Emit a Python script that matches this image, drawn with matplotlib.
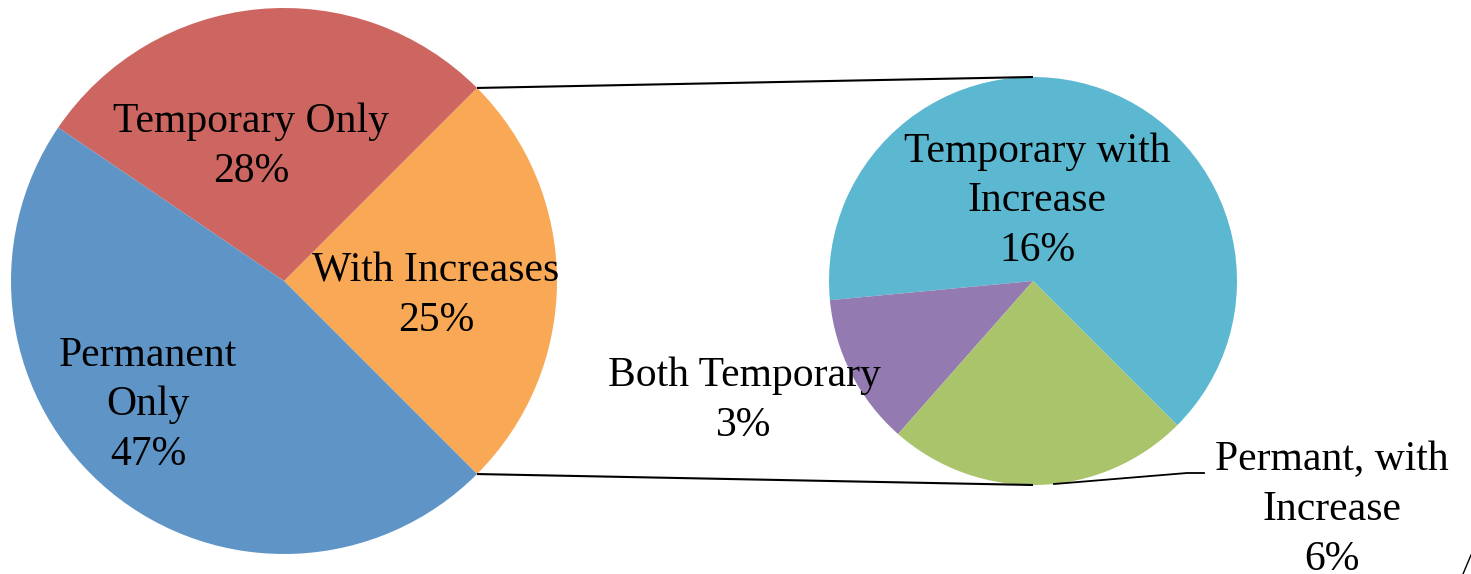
import matplotlib.pyplot as plt
import numpy as np

# main pie: share of each category, the "With Increases" slice is split out on the right
main_labels = ["With Increases", "Temporary Only", "Permanent\nOnly"]
main_values = [25, 28, 47]
main_colors = ["#F9A856", "#CD6660", "#5F94C7"]

# breakdown of "With Increases"
sub_labels = ["Temporary with\nIncrease", "Both Temporary", "Permant, with\nIncrease"]
sub_values = [16, 3, 6]
sub_colors = ["#5BB8D0", "#937AB0", "#AAC46C"]

W, H = 1471, 574
fig = plt.figure(figsize=(W / 100, H / 100), dpi=100)
ax = fig.add_axes([0, 0, 1, 1])

c1, r1 = (284, 293), 273
c2, r2 = (1033, 293), 204

# the split-out slice is centred on 0 degrees
start1 = -180 * main_values[0] / 100
ax.pie(main_values, colors=main_colors, center=c1, radius=r1,
       startangle=start1, counterclock=True, frame=True)
ax.pie(sub_values, colors=sub_colors, center=c2, radius=r2,
       startangle=-45, counterclock=True, frame=True)
ax.set_xlim(0, W)
ax.set_ylim(0, H)
ax.set_aspect("equal")
ax.axis("off")

# connector lines from the split slice edges to the top/bottom of the second pie
a = np.deg2rad(-start1)
for s in (1, -1):
    x0 = c1[0] + r1 * np.cos(a)
    y0 = c1[1] + s * r1 * np.sin(a)
    ax.plot([x0, c2[0]], [y0, c2[1] + s * r2], color="black", lw=1.5,
            solid_capstyle="butt")

font = dict(family="Liberation Serif", fontsize=30, ha="center", va="center",
            linespacing=1.38)

main_pos = [(436, 574 - 296), (251, 574 - 147), (148, 574 - 405)]
for lab, v, (x, y) in zip(main_labels, main_values, main_pos):
    ax.text(x, y, f"{lab}\n{v}%", **font)

sub_pos = [(1037, 574 - 201), (744, 574 - 401), (1332, 574 - 510)]
for lab, v, (x, y) in zip(sub_labels, sub_values, sub_pos):
    ax.text(x, y, f"{lab}\n{v}%", **font)

# leader line for the green slice label
ax.plot([1054, 1187, 1204], [574 - 484, 574 - 473, 574 - 473],
        color="black", lw=1.3)
ax.plot([1463, 1471], [0, 19], color="black", lw=1)

fig.savefig("out.png", dpi=100)
